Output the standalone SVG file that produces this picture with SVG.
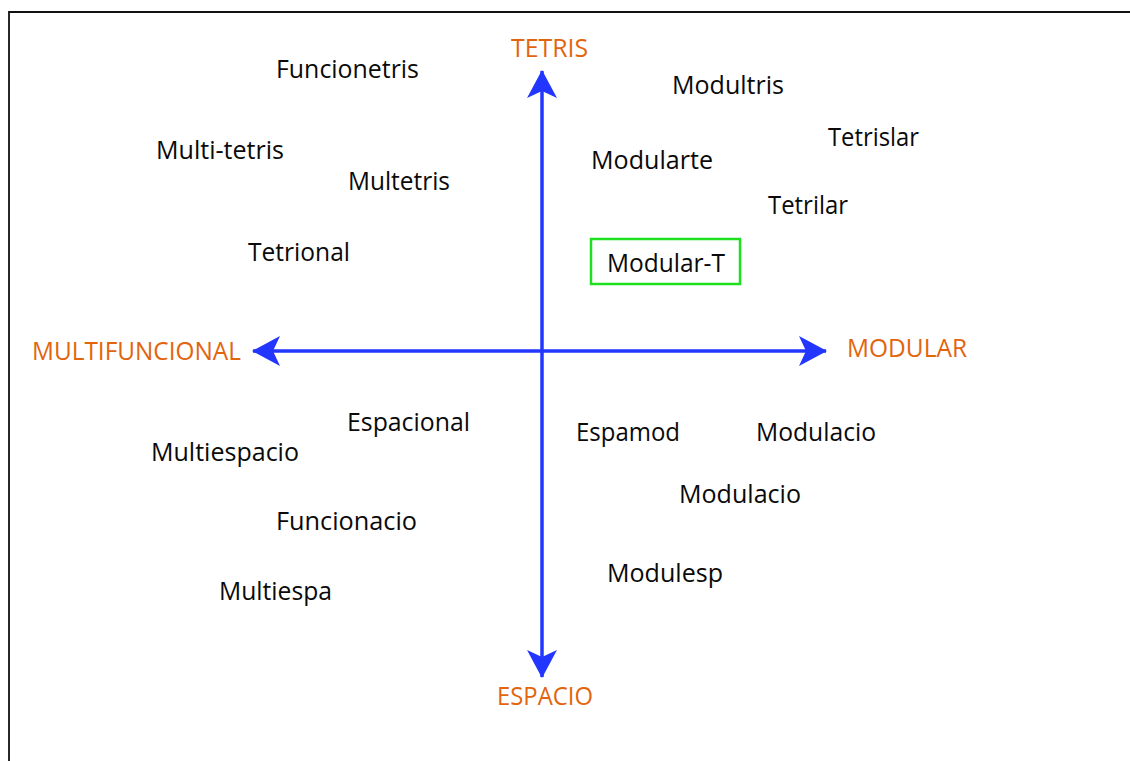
<svg xmlns="http://www.w3.org/2000/svg" width="1130" height="761" viewBox="0 0 1130 761">
  <style>
    .lbl { font-family: "Open Sans", "Noto Sans", sans-serif; font-size: 26px; fill: #0a0a0a; }
    .axis { font-family: "Open Sans", "Noto Sans", sans-serif; font-size: 26px; fill: #e2650e; }
    .ax { stroke: #2236ff; stroke-width: 3.5; fill: none; }
  </style>
  <defs>
    <marker id="ah" viewBox="0 0 28 30" markerWidth="28" markerHeight="30" markerUnits="userSpaceOnUse" refX="27" refY="15" orient="auto-start-reverse">
      <path d="M0,0 L28,15 L0,30 L7,15 Z" fill="#2236ff"/>
    </marker>
  </defs>
  <rect x="0" y="0" width="1130" height="761" fill="#ffffff"/>
  <path d="M9,761 V12 H1130" fill="none" stroke="#111111" stroke-width="1.8"/>

  <g id="connectors">
    <line class="ax" x1="542" y1="71" x2="542" y2="677" marker-start="url(#ah)" marker-end="url(#ah)"/>
    <line class="ax" x1="253" y1="351" x2="826" y2="351" marker-start="url(#ah)" marker-end="url(#ah)"/>
  </g>

  <g id="axis-tetris"><text class="axis" x="511" y="57" textLength="77" lengthAdjust="spacingAndGlyphs">TETRIS</text></g>
  <g id="axis-multifuncional"><text class="axis" x="32" y="360" textLength="209" lengthAdjust="spacingAndGlyphs">MULTIFUNCIONAL</text></g>
  <g id="axis-modular"><text class="axis" x="847" y="357" textLength="120" lengthAdjust="spacingAndGlyphs">MODULAR</text></g>
  <g id="axis-espacio"><text class="axis" x="497" y="705" textLength="96" lengthAdjust="spacingAndGlyphs">ESPACIO</text></g>

  <g id="n-funcionetris"><text class="lbl" x="276" y="78" textLength="143" lengthAdjust="spacingAndGlyphs">Funcionetris</text></g>
  <g id="n-modultris"><text class="lbl" x="672" y="94" textLength="112" lengthAdjust="spacingAndGlyphs">Modultris</text></g>
  <g id="n-multi-tetris"><text class="lbl" x="156" y="159" textLength="128" lengthAdjust="spacingAndGlyphs">Multi-tetris</text></g>
  <g id="n-tetrislar"><text class="lbl" x="828" y="146" textLength="91" lengthAdjust="spacingAndGlyphs">Tetrislar</text></g>
  <g id="n-modularte"><text class="lbl" x="591" y="169" textLength="122" lengthAdjust="spacingAndGlyphs">Modularte</text></g>
  <g id="n-multetris"><text class="lbl" x="348" y="190" textLength="102" lengthAdjust="spacingAndGlyphs">Multetris</text></g>
  <g id="n-tetrilar"><text class="lbl" x="768" y="214" textLength="80" lengthAdjust="spacingAndGlyphs">Tetrilar</text></g>
  <g id="n-tetrional"><text class="lbl" x="248" y="261" textLength="102" lengthAdjust="spacingAndGlyphs">Tetrional</text></g>
  <g id="n-modular-t">
    <rect x="591" y="239" width="149" height="45" fill="none" stroke="#1fe01f" stroke-width="2.5"/>
    <text class="lbl" x="607" y="272" textLength="118" lengthAdjust="spacingAndGlyphs">Modular-T</text>
  </g>
  <g id="n-espacional"><text class="lbl" x="347" y="431" textLength="123" lengthAdjust="spacingAndGlyphs">Espacional</text></g>
  <g id="n-multiespacio"><text class="lbl" x="151" y="461" textLength="148" lengthAdjust="spacingAndGlyphs">Multiespacio</text></g>
  <g id="n-espamod"><text class="lbl" x="576" y="441" textLength="104" lengthAdjust="spacingAndGlyphs">Espamod</text></g>
  <g id="n-modulacio-1"><text class="lbl" x="756" y="441" textLength="120" lengthAdjust="spacingAndGlyphs">Modulacio</text></g>
  <g id="n-modulacio-2"><text class="lbl" x="679" y="503" textLength="122" lengthAdjust="spacingAndGlyphs">Modulacio</text></g>
  <g id="n-funcionacio"><text class="lbl" x="276" y="530" textLength="141" lengthAdjust="spacingAndGlyphs">Funcionacio</text></g>
  <g id="n-modulesp"><text class="lbl" x="607" y="582" textLength="116" lengthAdjust="spacingAndGlyphs">Modulesp</text></g>
  <g id="n-multiespa"><text class="lbl" x="219" y="600" textLength="113" lengthAdjust="spacingAndGlyphs">Multiespa</text></g>
</svg>
